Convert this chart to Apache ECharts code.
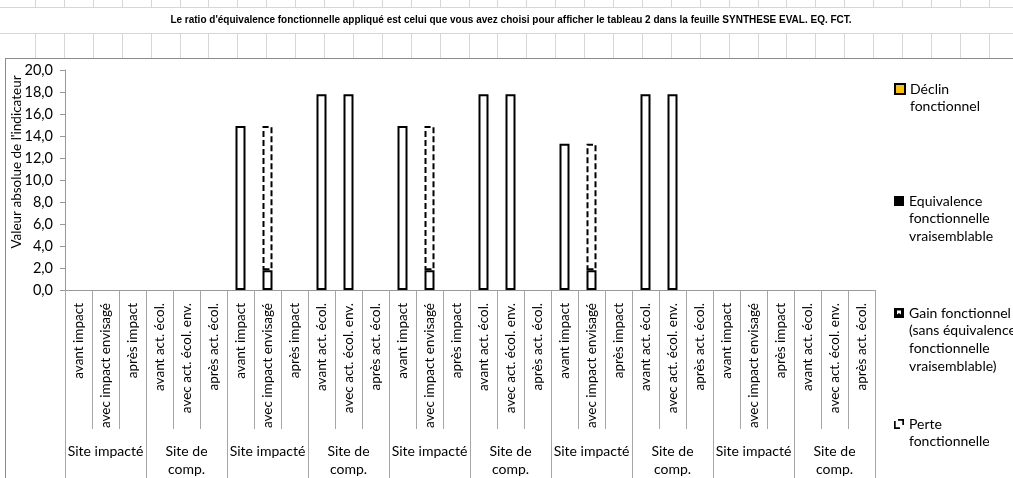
<!DOCTYPE html>
<html lang="fr">
<head>
<meta charset="utf-8">
<title>Valeur absolue de l'indicateur</title>
<script src="https://cdn.jsdelivr.net/npm/echarts@6/dist/echarts.min.js"></script>
<style>
  html, body { margin: 0; padding: 0; background: #ffffff; }
  #chart { width: 1013px; height: 478px; }
</style>
</head>
<body>
<div id="chart"></div>
<script>
// Libellés des deux niveaux de l'axe des catégories
const sitesGroupes = ['Site impacté', 'Site de\ncomp.', 'Site impacté', 'Site de\ncomp.', 'Site impacté',
                      'Site de\ncomp.', 'Site impacté', 'Site de\ncomp.', 'Site impacté', 'Site de\ncomp.'];
const etapesImpact = ['avant impact', 'avec impact envisagé', 'après impact'];
const etapesCompensation = ['avant act. écol.', 'avec act. écol. env.', 'après act. écol.'];
const etapes = sitesGroupes.flatMap((g, i) => (i % 2 === 0 ? etapesImpact : etapesCompensation));

// Valeur absolue de l'indicateur (contour plein)
const valeurs = [null, null, null,   null, null, null,
                 14.9, 1.8, null,    17.8, 17.8, null,
                 14.9, 1.8, null,    17.8, 17.8, null,
                 13.3, 1.8, null,    17.8, 17.8, null,
                 null, null, null,   null, null, null];
// Perte fonctionnelle empilée au-dessus (contour pointillé)
const perte = [null, null, null,   null, null, null,
               null, 13.1, null,   null, null, null,
               null, 13.1, null,   null, null, null,
               null, 11.5, null,   null, null, null,
               null, null, null,   null, null, null];
const declin = [];
const equivalence = [];
const gain = [];

const yTicks = { min: 0, max: 20, interval: 2 };

const titre = "Le ratio d'équivalence fonctionnelle appliqué est celui que vous avez choisi pour afficher le tableau 2 dans la feuille SYNTHESE EVAL. EQ. FCT.";

const libellesLegende = {
  'Déclin fonctionnel': 'Déclin\nfonctionnel',
  'Equivalence fonctionnelle vraisemblable': 'Equivalence\nfonctionnelle\nvraisemblable',
  'Gain fonctionnel (sans équivalence fonctionnelle vraisemblable)': 'Gain fonctionnel\n(sans équivalence\nfonctionnelle\nvraisemblable)',
  'Perte fonctionnelle': 'Perte\nfonctionnelle'
};

const FONT = 'Lato, "Open Sans", sans-serif';
const LH = 17.8;

// Quadrillage de la feuille autour du graphique
const decor = [];
const gridColor = '#d6d6d6';
function ligne(x1, y1, x2, y2, color, w) {
  decor.push({ type: 'line', silent: true, z: -10,
    shape: { x1, y1, x2, y2 }, style: { stroke: color, lineWidth: w || 1 } });
}
ligne(0, 7.5, 1013, 7.5, gridColor);
ligne(0, 33.5, 1013, 33.5, gridColor);
for (let k = 0; k < 35; k++) {
  const x = Math.round(35 + 28.9 * k) + 0.5;
  ligne(x, 0, x, 7.5, gridColor);
  ligne(x, 33.5, x, 58, gridColor);
}
ligne(5, 58.5, 1013, 58.5, '#8c8c8c');
ligne(5.5, 58.5, 5.5, 478, '#8c8c8c');
decor.push({ type: 'text', silent: true, x: 511, y: 20,
  style: { text: titre, fontFamily: '"Liberation Sans", Arial, sans-serif', fontWeight: 'bold', fontSize: 10,
           fill: '#000', align: 'center', verticalAlign: 'middle' } });
decor.push({ type: 'text', silent: true, x: 17, y: 162, rotation: Math.PI / 2,
  style: { text: "Valeur absolue de l'indicateur", fontFamily: FONT, fontSize: 13.5,
           fill: '#000', align: 'center', verticalAlign: 'middle' } });

// Légende : l'icône est alignée sur la première ligne du libellé
function legende(nom, yc, icone, extraItem) {
  const lignes = libellesLegende[nom].split('\n');
  const n = lignes.length;
  const texte = Array(n - 1).fill(' ').concat(lignes).join('\n');
  return {
    show: true, orient: 'vertical', left: 894, top: yc - (2 * n - 1) * LH / 2,
    padding: 0, itemWidth: 10, itemHeight: 10, itemGap: 0, selectedMode: false,
    data: [Object.assign({ name: nom, icon: icone }, extraItem || {})],
    formatter: () => texte,
    textStyle: { fontFamily: FONT, fontSize: 14, color: '#000', lineHeight: LH }
  };
}

const barBase = { type: 'bar', stack: 'total', barWidth: 10, xAxisIndex: 0, yAxisIndex: 0 };

const option = {
  animation: false,
  backgroundColor: '#ffffff',
  graphic: decor,
  grid: { left: 65, right: 138, top: 70, bottom: 185, containLabel: false },
  legend: [
    legende('Déclin fonctionnel', 89, 'rect'),
    legende('Equivalence fonctionnelle vraisemblable', 201, 'rect'),
    legende('Gain fonctionnel (sans équivalence fonctionnelle vraisemblable)', 313,
            'path://M0,0H10V10H0Z M3,2.5V6.5L5,5L7,6.5V2.5Z'),
    legende('Perte fonctionnelle', 424,
            'path://M0,2V10H6V8.3H1.7V2Z M4,0H10V6H8.3V1.7H4Z',
            { itemStyle: { color: '#000', borderWidth: 0 } })
  ],
  xAxis: [
    {
      type: 'category', data: etapes, position: 'bottom',
      axisLine: { show: true, lineStyle: { color: '#999', width: 1 } },
      axisTick: { show: true, interval: 0, length: 139, lineStyle: { color: '#a6a6a6' } },
      axisLabel: { interval: 0, rotate: 90, margin: 13, fontFamily: FONT, fontSize: 13.5, color: '#000' }
    },
    {
      type: 'category', data: sitesGroupes, position: 'bottom',
      axisLine: { show: false },
      axisTick: { show: true, interval: 0, length: 190, lineStyle: { color: '#a6a6a6' } },
      axisLabel: { interval: 0, margin: 152, fontFamily: FONT, fontSize: 14, lineHeight: 18, color: '#000', align: 'center' }
    }
  ],
  yAxis: {
    type: 'value', min: yTicks.min, max: yTicks.max, interval: yTicks.interval,
    axisLine: { show: true, lineStyle: { color: '#999' } },
    axisTick: { show: true, length: 5, lineStyle: { color: '#999' } },
    splitLine: { show: false },
    axisLabel: { margin: 12, fontFamily: FONT, fontSize: 14.5, color: '#000',
                 formatter: (v) => v.toFixed(1).replace('.', ',') }
  },
  series: [
    Object.assign({}, barBase, { name: 'Valeur', data: valeurs,
      itemStyle: { color: '#ffffff', borderColor: '#000', borderWidth: 2 } }),
    Object.assign({}, barBase, { name: 'Perte fonctionnelle', data: perte,
      itemStyle: { color: 'rgba(255,255,255,0)', borderColor: '#000', borderWidth: 2, borderType: [6, 3] } }),
    Object.assign({}, barBase, { name: 'Déclin fonctionnel', data: declin,
      itemStyle: { color: '#FFC000', borderColor: '#000', borderWidth: 1.5 } }),
    Object.assign({}, barBase, { name: 'Equivalence fonctionnelle vraisemblable', data: equivalence,
      itemStyle: { color: '#000' } }),
    Object.assign({}, barBase, { name: 'Gain fonctionnel (sans équivalence fonctionnelle vraisemblable)', data: gain,
      itemStyle: { color: '#000' } })
  ]
};

const chart = echarts.init(document.getElementById('chart'), null, { renderer: 'canvas' });
chart.setOption(option);
</script>
</body>
</html>
